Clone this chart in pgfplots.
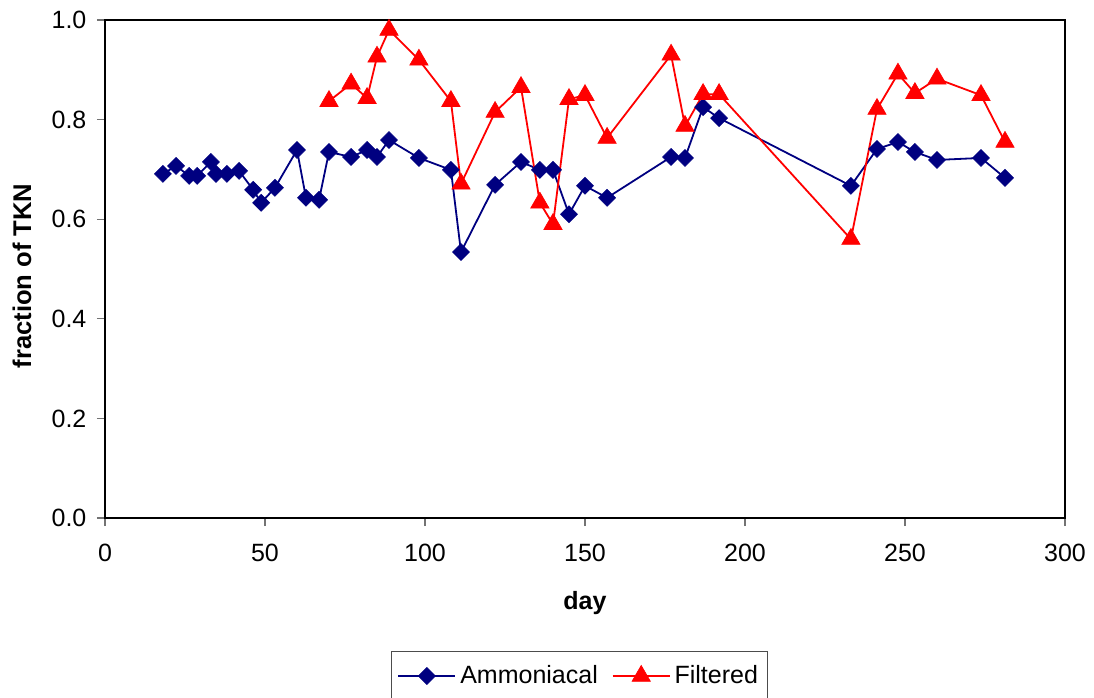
\documentclass[border=0pt]{standalone}
\usepackage{fontspec}
\setmainfont{Liberation Sans}
\usepackage{pgfplots}
\pgfplotsset{compat=1.18}
\definecolor{navyb}{RGB}{0,0,128}
\definecolor{redf}{RGB}{255,0,0}
\begin{document}
\begin{tikzpicture}
\begin{axis}[name=ax,
  scale only axis, width=480bp, height=249bp,
  xmin=0, xmax=300, ymin=0, ymax=1,
  xtick={0,50,...,300}, ytick={0,0.2,...,1.0},
  /pgf/number format/assume math mode=true,
  yticklabel style={/pgf/number format/.cd, fixed, fixed zerofill, precision=1, /tikz/.cd, xshift=-1.8bp},
  xticklabel style={/pgf/number format/.cd, fixed, /tikz/.cd, yshift=-5.3bp},
  tick align=outside, xtick pos=bottom, ytick pos=left,
  major tick length=4bp,
  tick style={black!55, line width=0.6bp},
  axis line style={black, line width=0.8bp},
  font=\fontsize{12.5bp}{14bp}\selectfont,
  xlabel={\textbf{day}}, ylabel={\textbf{fraction of TKN}},
  xlabel style={at={(axis description cs:0.5,-0.171)}, anchor=center},
  ylabel style={at={(axis description cs:-0.0865,0.486)}, anchor=center, font=\fontsize{12.8bp}{14bp}\selectfont},
  legend columns=2,
  legend style={at={(axis description cs:0.4945,-0.267)}, anchor=north,
    draw=black!70, line width=0.5bp, inner xsep=3bp, inner ysep=5bp,
    font=\fontsize{12.5bp}{14bp}\selectfont,
    /tikz/every even column/.append style={column sep=5bp}},
  legend image code/.code={\draw[mark repeat=2,mark phase=2] plot coordinates {(0bp,0bp)(14.25bp,0bp)(28.5bp,0bp)};},
]
\addplot[navyb, line width=0.9bp, mark=square*, mark size=3bp, mark options={rotate=45, fill=navyb, draw=navyb, line width=0.3bp}] coordinates {
(18.1,0.691)(22.2,0.707)(26.3,0.687)(28.8,0.687)(33.1,0.715)(34.7,0.691)(38.1,0.691)(41.9,0.697)(46.3,0.659)(48.8,0.633)(53.1,0.663)(60,0.739)(62.8,0.643)(66.9,0.639)(70,0.735)(76.9,0.725)(81.9,0.739)(85,0.725)(88.75,0.759)(98.1,0.723)(108.1,0.699)(111.25,0.534)(121.9,0.669)(130,0.715)(135.9,0.699)(140,0.699)(145,0.610)(150,0.667)(156.9,0.643)(176.9,0.725)(181.25,0.723)(186.9,0.825)(191.9,0.803)(233.1,0.667)(241.25,0.741)(247.8,0.755)(253.1,0.735)(260,0.719)(273.75,0.723)(281.25,0.683)
};
\addlegendentry{Ammoniacal}
\addplot[redf, line width=0.9bp, mark=triangle*, mark size=5.3bp, mark options={fill=redf, draw=redf, line width=0.3bp}] coordinates {
(70,0.837)(76.9,0.872)(81.9,0.843)(85,0.926)(88.75,0.980)(98.1,0.920)(108.1,0.837)(111.25,0.671)(121.9,0.815)(130,0.865)(135.9,0.633)(140,0.590)(145,0.841)(150,0.849)(156.9,0.763)(176.9,0.930)(181.25,0.787)(186.9,0.851)(191.9,0.851)(233.1,0.560)(241.25,0.821)(247.8,0.892)(253.1,0.853)(260,0.882)(273.75,0.849)(281.25,0.755)
};
\addlegendentry{Filtered}
\end{axis}
\pgfresetboundingbox
\path ([shift={(-52.5bp,-90bp)}]ax.south west) rectangle ([shift={(14.5bp,10bp)}]ax.north east);
\end{tikzpicture}
\end{document}
